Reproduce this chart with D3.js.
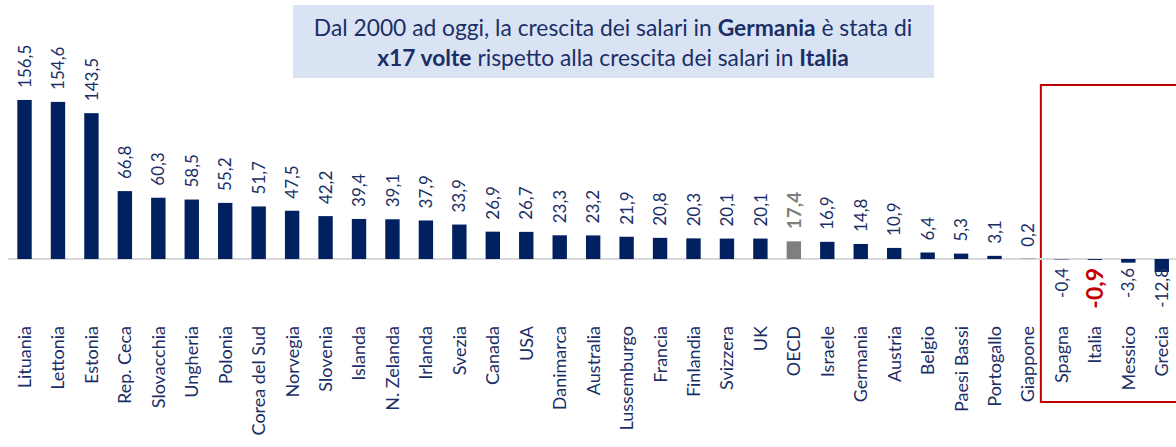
<!DOCTYPE html>
<html><head><meta charset="utf-8">
<script src="https://cdn.jsdelivr.net/npm/d3@7"></script>
<style>
html,body{margin:0;padding:0;background:#fff;}
svg{display:block;font-family:Lato,"Open Sans",sans-serif;}
</style></head>
<body>
<svg id="chart" width="1176" height="447"></svg>
<script>
const categories = ["Lituania","Lettonia","Estonia","Rep. Ceca","Slovacchia","Ungheria","Polonia","Corea del Sud","Norvegia","Slovenia","Islanda","N. Zelanda","Irlanda","Svezia","Canada","USA","Danimarca","Australia","Lussemburgo","Francia","Finlandia","Svizzera","UK","OECD","Israele","Germania","Austria","Belgio","Paesi Bassi","Portogallo","Giappone","Spagna","Italia","Messico","Grecia"];
const values = [156.5,154.6,143.5,66.8,60.3,58.5,55.2,51.7,47.5,42.2,39.4,39.1,37.9,33.9,26.9,26.7,23.3,23.2,21.9,20.8,20.3,20.1,20.1,17.4,16.9,14.8,10.9,6.4,5.3,3.1,0.2,-0.4,-0.9,-3.6,-12.8];
const highlightAvg = "OECD";
const highlightItaly = "Italia";
const titleLine1 = [["Dal 2000 ad oggi, la crescita dei salari in ",false],["Germania",true],[" è stata di",false]];
const titleLine2 = [["x17 volte",true],[" rispetto alla crescita dei salari in ",false],["Italia",true]];

const NAVY = "#002060", TEXT = "#1b2f66", GRAY = "#7f7f7f", RED = "#c00000";
const svg = d3.select("#chart");
const data = categories.map((c,i)=>({c, v: values[i]}));

const x = d3.scaleBand().domain(categories).range([7.8, 1178.5]).paddingInner(0.57).paddingOuter(0.285);
const y = d3.scaleLinear().domain([0, 160]).range([259, 96.4]);

// red highlight box
const firstNeg = categories[values.findIndex(v=>v<0)];
svg.append("rect")
  .attr("x", x(firstNeg) - x.step()*0.4).attr("y", 85)
  .attr("width", 1176 - (x(firstNeg) - x.step()*0.4) + 5).attr("height", 317)
  .attr("fill","none").attr("stroke", RED).attr("stroke-width", 2);

// zero line
svg.append("line").attr("x1", 8).attr("x2", 1176).attr("y1", y(0)).attr("y2", y(0))
  .attr("stroke", "#d9d9d9").attr("stroke-width", 2);

// bars
svg.append("g").selectAll("rect").data(data).join("rect")
  .attr("x", d=>x(d.c)).attr("width", x.bandwidth())
  .attr("y", d=>Math.min(y(d.v), y(0))).attr("height", d=>Math.abs(y(d.v)-y(0)))
  .attr("fill", d=>d.c===highlightAvg ? GRAY : NAVY);

// value labels
const fmt = v => String(v.toFixed(1)).replace(".", ",");
const vl = svg.append("g").selectAll("text").data(data).join("text")
  .attr("transform", d=>{
    const cx = x(d.c) + x.bandwidth()/2;
    const yy = d.v >= 0 ? y(d.v) - 12 : y(0) + 9;
    return `translate(${cx},${yy}) rotate(-90)`;
  })
  .attr("text-anchor", d=> d.v >= 0 ? "start" : "end")
  .attr("dy", "0.36em")
  .attr("font-size", d=> d.c===highlightItaly ? 23 : d.c===highlightAvg ? 19 : 17)
  .attr("font-weight", d=> (d.c===highlightItaly || d.c===highlightAvg) ? "bold" : "normal")
  .attr("fill", d=> d.c===highlightItaly ? RED : d.c===highlightAvg ? GRAY : TEXT)
  .text(d=>fmt(d.v));

// category labels (top aligned, pushed down if colliding with a negative value label)
const valueBottoms = {};
vl.each(function(d){
  if (d.v < 0) valueBottoms[d.c] = y(0) + 9 + this.getComputedTextLength();
});
svg.append("g").selectAll("text").data(data).join("text")
  .attr("transform", d=>{
    const cx = x(d.c) + x.bandwidth()/2;
    let top = 326;
    if (valueBottoms[d.c] !== undefined) top = Math.max(top, valueBottoms[d.c] + 3);
    return `translate(${cx},${top}) rotate(-90)`;
  })
  .attr("text-anchor","end").attr("dy","0.36em")
  .attr("font-size", 18).attr("fill", TEXT)
  .text(d=>d.c);

// title box
svg.append("rect").attr("x", 293).attr("y", 5).attr("width", 641).attr("height", 73).attr("fill", "#dae3f3");
[titleLine1, titleLine2].forEach((line, i)=>{
  const t = svg.append("text").attr("x", 613).attr("y", 36 + i*30)
    .attr("text-anchor","middle").attr("font-size", 22.8).attr("fill", TEXT);
  line.forEach(([s,b])=> t.append("tspan").attr("font-weight", b ? "bold" : "normal").text(s));
});
</script>
</body></html>
